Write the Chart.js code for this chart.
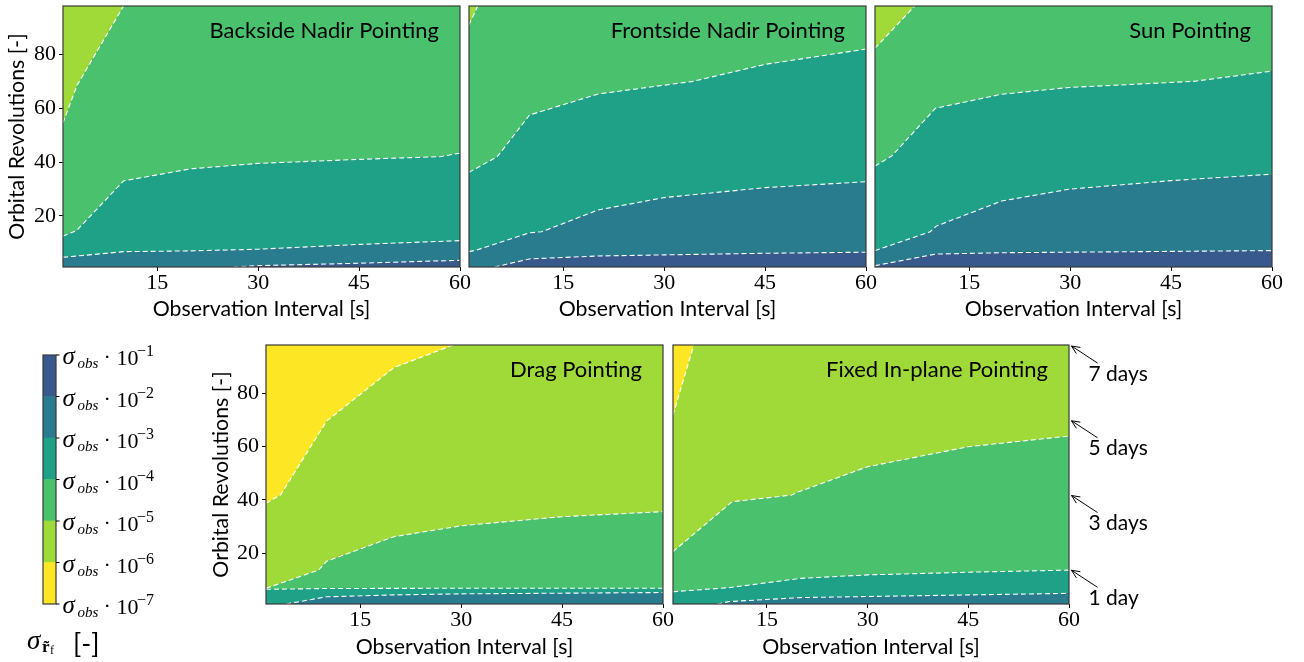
<!DOCTYPE html>
<html><head><meta charset="utf-8">
<script src="https://cdn.jsdelivr.net/npm/chart.js@4.4.1/dist/chart.umd.min.js"></script>
<style>
html,body{margin:0;padding:0;background:#fff;}
body{width:1304px;height:662px;position:relative;overflow:hidden;}
canvas{position:absolute;}
</style></head><body>
<canvas id="cb"></canvas>
<canvas id="p5"></canvas>
<canvas id="p4"></canvas>
<canvas id="p3"></canvas>
<canvas id="p2"></canvas>
<canvas id="p1"></canvas>
<script>
// ---------- data ----------
const X_MIN = 1, X_MAX = 60;
const Y_MIN = 1, Y_MAX = 98;
const X_TICKS = [15, 30, 45, 60];
const Y_TICKS = [20, 40, 60, 80];
const LEVEL_EXPONENTS = [-7, -6, -5, -4, -3, -2, -1];
const LEVEL_COLORS = ['#fde725', '#a0da39', '#4ac16d', '#1fa187', '#287c8e', '#38598c'];
const DAY_REVS = [14, 42, 70, 98];
const DAY_LABELS = ['1 day', '3 days', '5 days', '7 days'];

// boundaries: [observation interval, orbital revolutions]
const backside_1e6 = [[1,54.6],[3.1,68.6],[10,98],[60,98]];
const backside_1e5 = [[1,12.5],[3,14.5],[10,33],[20,37.5],[30,39.5],[45,41],[57,42],[60,43.3]];
const backside_1e4 = [[1,4.6],[10,6.7],[20,7],[30,7.6],[45,9.4],[60,10.8]];
const backside_1e3 = [[1,1],[26.3,1],[30,1.5],[45,2.4],[60,3.5]];

const frontside_1e6 = [[1,91],[2.3,98],[60,98]];
const frontside_1e5 = [[1,36.2],[5.2,42],[10,57.5],[20.2,65.3],[34.3,70],[45,76.3],[60,82]];
const frontside_1e4 = [[1,6.7],[2.1,7.3],[10,13.7],[11.8,14.1],[20.2,22.2],[30,26.8],[45,30.5],[60,32.7]];
const frontside_1e3 = [[1,1],[4.8,1],[10,4],[20.2,5.1],[30,5.5],[45,6.1],[60,6.5]];

const sun_1e6 = [[1,82.3],[6.9,98],[60,98]];
const sun_1e5 = [[1,38.5],[3.5,42.3],[10,60],[19.8,65.2],[29.8,67.7],[48.4,70],[60,73.8]];
const sun_1e4 = [[1,7.1],[9.2,14.1],[10.1,16.2],[19.8,25.5],[29.8,29.9],[45,33.1],[60,35.5]];
const sun_1e3 = [[1,1.5],[10,5.8],[19.8,6.3],[60,7.1]];

const drag_1e7 = [[1,38.7],[3.2,42],[10,69.5],[20,89.5],[28.8,98],[60,98]];
const drag_1e6 = [[1,6.9],[8.8,13.7],[10,17],[20,26.2],[30,30.3],[45,33.7],[60,35.6]];
const drag_1e5 = [[1,6.5],[10,6.8],[30,6.9],[60,6.9]];
const drag_1e4 = [[1,1],[4,1],[10,3.7],[20,4.4],[30,4.8],[60,5.3]];

const fixed_1e7 = [[1,71.8],[4.1,98],[60,98]];
const fixed_1e6 = [[1,20.6],[9.8,39.3],[18.7,41.8],[19.7,43],[30,52.4],[45,59.9],[60,63.9]];
const fixed_1e5 = [[1,5.6],[9.3,7.1],[20,10.6],[30,11.9],[45,12.9],[60,13.7]];
const fixed_1e4 = [[1,1],[7.6,1],[9.3,1.9],[20,3.4],[45,4.4],[60,5]];

const PANELS = [
  {id:'p1', title:'Backside Nadir Pointing', top:1, bounds:[backside_1e6, backside_1e5, backside_1e4, backside_1e3]},
  {id:'p2', title:'Frontside Nadir Pointing', top:1, bounds:[frontside_1e6, frontside_1e5, frontside_1e4, frontside_1e3]},
  {id:'p3', title:'Sun Pointing', top:1, bounds:[sun_1e6, sun_1e5, sun_1e4, sun_1e3]},
  {id:'p4', title:'Drag Pointing', top:0, bounds:[drag_1e7, drag_1e6, drag_1e5, drag_1e4]},
  {id:'p5', title:'Fixed In-plane Pointing', top:0, bounds:[fixed_1e7, fixed_1e6, fixed_1e5, fixed_1e4]},
];

// ---------- layout / style ----------
const SANS = 'Lato, "Open Sans", "DejaVu Sans", sans-serif';
const SERIF = '"Liberation Serif", "DejaVu Serif", serif';
const BOXES = {
  p1:{x:6,   y:0,   w:470, h:320, pad:{left:0, top:6,right:16,bottom:0}, yw:57, xh:53, showY:true},
  p2:{x:459, y:0,   w:423, h:320, pad:{left:10,top:6,right:16,bottom:0}, xh:53, showY:false},
  p3:{x:865, y:0,   w:423, h:320, pad:{left:10,top:6,right:16,bottom:0}, xh:53, showY:false},
  p4:{x:210, y:339, w:469, h:319, pad:{left:0, top:6,right:16,bottom:0}, yw:56, xh:54, showY:true},
  p5:{x:662.5,y:339,w:498, h:319, pad:{left:10,top:6,right:92,bottom:0}, xh:54, showY:false, days:true},
};

function sizeCanvas(cv, b){
  cv.width = b.w; cv.height = b.h;
  cv.style.left = b.x + 'px'; cv.style.top = b.y + 'px';
  cv.style.width = b.w + 'px'; cv.style.height = b.h + 'px';
}

function onEdge(c){
  const y0 = c.p0.parsed.y, y1 = c.p1.parsed.y;
  return (y0 >= Y_MAX && y1 >= Y_MAX) || (y0 <= Y_MIN && y1 <= Y_MIN);
}

function makePanel(panel){
  const b = BOXES[panel.id];
  const cv = document.getElementById(panel.id);
  sizeCanvas(cv, b);
  const n = panel.bounds.length;
  const fills = panel.bounds.map((bd, i) => ({
    data: bd.map(p => ({x:p[0], y:p[1]})),
    backgroundColor: LEVEL_COLORS[panel.top + i + 1],
    fill: 'start',
    borderColor: 'rgba(0,0,0,0)',
    borderWidth: 1,
    pointRadius: 0,
    tension: 0,
    order: 100 + n - i
  }));
  const lines = panel.bounds.map((bd, i) => ({
    data: bd.map(p => ({x:p[0], y:p[1]})),
    fill: false,
    borderColor: '#ffffff',
    borderWidth: 1.1,
    borderDash: [5, 3],
    pointRadius: 0,
    tension: 0,
    order: n - i,
    segment: { borderColor: c => onEdge(c) ? 'rgba(0,0,0,0)' : '#ffffff' }
  }));
  const deco = {
    id:'deco',
    beforeDraw(chart){
      const a = chart.chartArea, ctx = chart.ctx;
      ctx.save();
      ctx.fillStyle = LEVEL_COLORS[panel.top];
      ctx.fillRect(a.left, a.top, a.right - a.left, a.bottom - a.top);
      ctx.restore();
    },
    afterDatasetsDraw(chart){
      const a = chart.chartArea, ctx = chart.ctx;
      ctx.save();
      ctx.strokeStyle = '#3a3a3a'; ctx.lineWidth = 1.2;
      ctx.strokeRect(a.left, a.top, a.right - a.left, a.bottom - a.top);
      ctx.fillStyle = '#000';
      ctx.font = '22px ' + SANS;
      ctx.textAlign = 'right'; ctx.textBaseline = 'alphabetic';
      ctx.fillText(panel.title, a.right - 21, a.top + 32);
      ctx.restore();
    },
    afterDraw(chart){
      if (!b.days) return;
      const a = chart.chartArea, ctx = chart.ctx, ys = chart.scales.y;
      ctx.save();
      ctx.strokeStyle = '#000'; ctx.fillStyle = '#000'; ctx.lineWidth = 1;
      DAY_REVS.forEach((v, i) => {
        const py = ys.getPixelForValue(v);
        const tx = a.right + 2.5, ty = py + 1;
        const sx = a.right + 28.5, sy = py + 18;
        ctx.beginPath(); ctx.moveTo(sx, sy); ctx.lineTo(tx, ty); ctx.stroke();
        const ang = Math.atan2(ty - sy, tx - sx);
        const L = 9, w = 0.42;
        ctx.beginPath();
        ctx.moveTo(tx - L*Math.cos(ang - w), ty - L*Math.sin(ang - w));
        ctx.lineTo(tx, ty);
        ctx.lineTo(tx - L*Math.cos(ang + w), ty - L*Math.sin(ang + w));
        ctx.stroke();
        ctx.font = '21px ' + SANS;
        ctx.textAlign = 'left'; ctx.textBaseline = 'alphabetic';
        ctx.fillText(DAY_LABELS[i], a.right + 19.5, py + 35.5);
      });
      ctx.restore();
    }
  };
  const tickFont = {family: SERIF, size: 22, lineHeight: 1};
  const titleFont = {family: SANS, size: 21.3, lineHeight: 1};
  new Chart(cv, {
    type: 'line',
    data: {datasets: fills.concat(lines)},
    options: {
      responsive: false, animation: false, events: [],
      layout: {padding: b.pad},
      plugins: {legend:{display:false}, tooltip:{enabled:false}, filler:{drawTime:'beforeDatasetsDraw'}},
      scales: {
        x: {
          type:'linear', min:X_MIN, max:X_MAX,
          afterBuildTicks: s => { s.ticks = X_TICKS.map(v => ({value:v})); },
          afterFit: s => { s.height = b.xh; s.paddingLeft = 0; s.paddingRight = 0; },
          ticks: {font: tickFont, color:'#000', padding:1, maxRotation:0, autoSkip:false},
          grid: {drawOnChartArea:false, drawTicks:true, tickLength:4, color:'#000', lineWidth:1},
          border: {display:false},
          title: {display:true, text:'Observation Interval [s]', font:titleFont, color:'#000', padding:0}
        },
        y: {
          type:'linear', min:Y_MIN, max:Y_MAX, display: b.showY,
          afterBuildTicks: s => { s.ticks = Y_TICKS.map(v => ({value:v})); },
          afterFit: s => { if (b.showY) { s.width = b.yw; } s.paddingTop = 0; s.paddingBottom = 0; },
          ticks: {font: tickFont, color:'#000', padding:3, autoSkip:false},
          grid: {drawOnChartArea:false, drawTicks:true, tickLength:4, color:'#000', lineWidth:1},
          border: {display:false},
          title: {display:true, text:'Orbital Revolutions [-]', font:titleFont, color:'#000', padding:0}
        }
      }
    },
    plugins: [deco]
  });
}

PANELS.forEach(makePanel);

// ---------- colour bar ----------
(function(){
  const b = {x:0, y:330, w:200, h:332};
  const cv = document.getElementById('cb');
  sizeCanvas(cv, b);
  const datasets = LEVEL_COLORS.map((c, i) => ({
    data: [[LEVEL_EXPONENTS[i], LEVEL_EXPONENTS[i+1]]],
    backgroundColor: c, borderWidth: 0,
    grouped: false, barPercentage: 1, categoryPercentage: 1
  }));
  function sigmaLabel(ctx, x, y, e){
    ctx.fillStyle = '#000'; ctx.textAlign = 'left'; ctx.textBaseline = 'alphabetic';
    ctx.font = 'italic 25px ' + SERIF; ctx.fillText('σ', x, y + 9);
    ctx.font = 'italic 15px ' + SERIF; ctx.fillText('obs', x + 15, y + 13);
    ctx.font = '22px ' + SERIF; ctx.fillText('·', x + 41, y + 9);
    ctx.fillText('10', x + 54, y + 10);
    ctx.font = '16px ' + SERIF; ctx.fillText('−' + Math.abs(e), x + 74.5, y + 1);
  }
  const deco = {
    id:'cbdeco',
    afterDraw(chart){
      const a = chart.chartArea, ctx = chart.ctx, ys = chart.scales.y;
      ctx.save();
      ctx.strokeStyle = '#3a3a3a'; ctx.lineWidth = 1.2;
      ctx.strokeRect(a.left, a.top, a.right - a.left, a.bottom - a.top);
      ctx.strokeStyle = '#000'; ctx.lineWidth = 1;
      LEVEL_EXPONENTS.forEach(e => {
        const py = ys.getPixelForValue(e);
        ctx.beginPath(); ctx.moveTo(a.right, py); ctx.lineTo(a.right + 3.5, py); ctx.stroke();
        sigmaLabel(ctx, a.right + 6.5, py, e);
      });
      // colour bar label
      ctx.fillStyle = '#000'; ctx.textAlign = 'left'; ctx.textBaseline = 'alphabetic';
      ctx.font = 'italic 27px ' + SERIF; ctx.fillText('σ', 27, 319);
      ctx.font = 'bold 17px ' + SERIF; ctx.fillText('r\u0303', 42, 322);
      ctx.font = '12px ' + SERIF; ctx.fillText('f', 50, 324);
      ctx.font = '27px ' + SANS; ctx.fillText('[-]', 73, 323);
      ctx.restore();
    }
  };
  new Chart(cv, {
    type:'bar',
    data:{labels:[''], datasets},
    options:{
      responsive:false, animation:false, events:[],
      layout:{padding:{left:43, right:144, top:25, bottom:58}},
      plugins:{legend:{display:false}, tooltip:{enabled:false}},
      scales:{
        x:{display:false},
        y:{display:false, min:LEVEL_EXPONENTS[0], max:LEVEL_EXPONENTS[LEVEL_EXPONENTS.length-1]}
      }
    },
    plugins:[deco]
  });
})();
</script>
</body></html>
